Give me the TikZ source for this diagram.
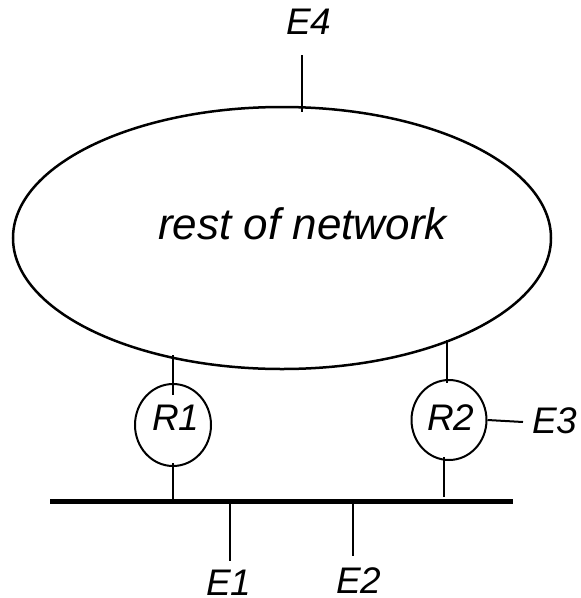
\documentclass[tikz,border=0pt]{standalone}
\usepackage{fontspec}
\setmainfont{Liberation Sans}
\usetikzlibrary{shapes.geometric}
\begin{document}
\begin{tikzpicture}[x=1pt,y=-1pt,
  wire/.style={line width=2pt},
  router/.style={draw,ellipse,line width=2pt,inner sep=0pt},
  lbl/.style={font=\fontsize{37}{40}\selectfont\itshape,inner sep=0pt,anchor=base west}]
\useasboundingbox (0,0) rectangle (581,598);
\node[draw,ellipse,line width=2.5pt,minimum width=538pt,minimum height=262pt] (net) at (282,238) {};
\node[font=\fontsize{44}{48}\selectfont\itshape,inner sep=0pt,anchor=base west] (netlbl) at (158,239) {rest of network};
\node[router,minimum width=76pt,minimum height=82pt] (r1) at (173,425) {};
\node[lbl] (r1l) at (152,430) {R1};
\node[router,minimum width=75pt,minimum height=80pt] (r2) at (449,420) {};
\node[lbl] (r2l) at (427,430) {R2};
\node[lbl] (e1) at (206,595) {E1};
\node[lbl] (e2) at (336,593) {E2};
\node[lbl] (e3) at (532,433) {E3};
\node[lbl] (e4) at (286,34) {E4};
\coordinate (barL) at (50,501.5);
\coordinate (barR) at (513,501.5);
\draw[line width=5pt] (barL) -- (barR);
\coordinate (e4a) at (302,55); \coordinate (e4b) at (302,112);
\draw[wire] (e4a) -- (e4b);
\coordinate (r1a) at (173,355); \coordinate (r1b) at (173,395);
\draw[wire] (r1a) -- (r1b);
\coordinate (r1c) at (173,463); \coordinate (r1d) at (173,502);
\draw[wire] (r1c) -- (r1d);
\coordinate (r2a) at (447,340); \coordinate (r2b) at (447,383);
\draw[wire] (r2a) -- (r2b);
\coordinate (r2c) at (444,457); \coordinate (r2d) at (444,497);
\draw[wire] (r2c) -- (r2d);
\coordinate (e3a) at (523,422);
\draw[wire] (r2.east) -- (e3a);
\coordinate (e1a) at (230,502); \coordinate (e1b) at (230,561);
\draw[wire] (e1a) -- (e1b);
\coordinate (e2a) at (353,500); \coordinate (e2b) at (353,556);
\draw[wire] (e2a) -- (e2b);
\end{tikzpicture}
\end{document}
